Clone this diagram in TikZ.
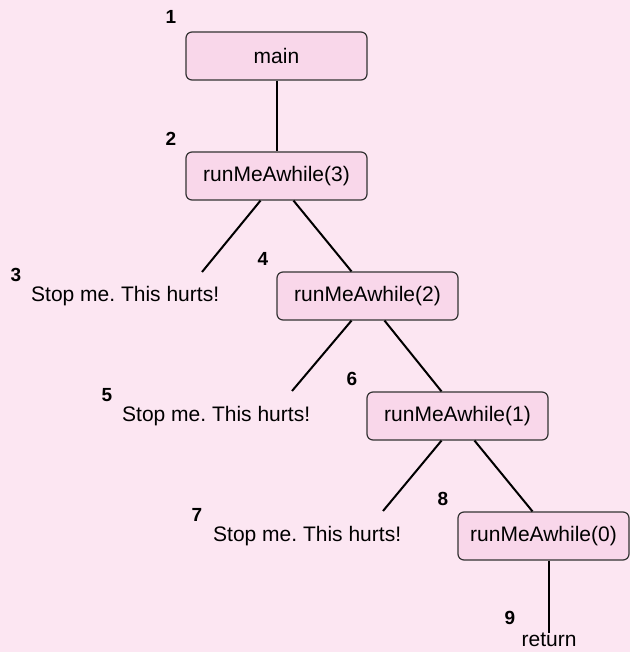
\documentclass[tikz,border=0pt]{standalone}
\usepackage{fontspec}
\setmainfont{Liberation Sans}
\usetikzlibrary{positioning}
\frenchspacing

\definecolor{pagebg}{HTML}{FCE6F2}
\definecolor{boxfill}{HTML}{F9D7EA}
\definecolor{boxline}{HTML}{333333}

\begin{document}
\begin{tikzpicture}[
    x=1pt, y=-1pt,
    font=\fontsize{21}{25}\selectfont,
    call/.style={
        draw=boxline, line width=1.2pt, fill=boxfill, rounded corners=6pt,
        minimum width=181pt, minimum height=48pt,
        align=center, inner sep=4pt
    },
    msg/.style={inner sep=0pt, anchor=west},
    num/.style={font=\fontsize{19}{22}\selectfont\bfseries, inner sep=0pt},
    link/.style={line width=2pt, black}
]

% -- background --
\fill[pagebg] (0,0) rectangle (630,652);
\useasboundingbox (0,0) rectangle (630,652);

% -- call boxes --
\node[call] (main) at (276.5,56) {main};
\node[call] (r3) at (276.5,176) {runMeAwhile(3)};
\node[call] (r2) at (367.5,296) {runMeAwhile(2)};
\node[call] (r1) at (457.5,416) {runMeAwhile(1)};
\node[call, minimum width=171pt] (r0) at (543.5,536) {runMeAwhile(0)};

% -- printed messages --
\node[msg] (m3) at (31,296) {Stop me. This hurts!};
\node[msg] (m2) at (122,416) {Stop me. This hurts!};
\node[msg] (m1) at (213,536) {Stop me. This hurts!};
\node[inner sep=0pt] (ret) at (549,639.5) {return};

% -- free ends of the message branches --
\coordinate (h3) at (202,272);
\coordinate (h2) at (292,391);
\coordinate (h1) at (383,511);

% -- step numbers --
\node[num] (n1) at (171,17) {1};
\node[num] (n2) at (171,139) {2};
\node[num] (n3) at (16,275) {3};
\node[num] (n4) at (263,259) {4};
\node[num] (n5) at (107,395) {5};
\node[num] (n6) at (352,379) {6};
\node[num] (n7) at (197,515) {7};
\node[num] (n8) at (443,499) {8};
\node[num] (n9) at (510,618) {9};

% -- connectors --
\draw[link] (main.south) -- (r3.north);
\draw[link] ([xshift=-16pt]r3.south) -- (h3);
\draw[link] ([xshift=17pt]r3.south) -- ([xshift=-16pt]r2.north);
\draw[link] ([xshift=-16pt]r2.south) -- (h2);
\draw[link] ([xshift=17pt]r2.south) -- ([xshift=-16pt]r1.north);
\draw[link] ([xshift=-16pt]r1.south) -- (h1);
\draw[link] ([xshift=17pt]r1.south) -- ([xshift=-11pt]r0.north);
\draw[link] (r0.south -| ret) -- ([yshift=-1pt]ret.north);

\end{tikzpicture}
\end{document}
